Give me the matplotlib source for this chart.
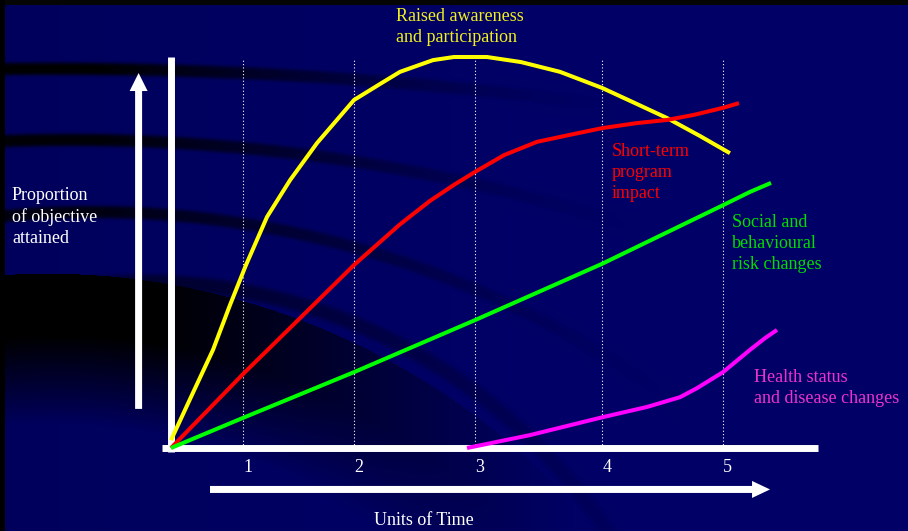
import numpy as np
import matplotlib.pyplot as plt
from matplotlib.patches import FancyArrow

# x: units of time (chart units), y: proportion of objective attained
tick_pos = [0.6, 1.525, 2.533, 3.592, 4.6]
tick_labels = ['1', '2', '3', '4', '5']

awareness_t = [0.0, 0.175, 0.35, 0.492, 0.625, 0.8, 0.992, 1.217, 1.525, 1.742, 1.908, 2.183,
               2.358, 2.633, 2.917, 3.242, 3.592, 3.867, 4.133, 4.408, 4.658]
awareness_p = [0.02, 0.136, 0.251, 0.366, 0.468, 0.591, 0.685, 0.780, 0.890, 0.931, 0.962, 0.992,
               1.0, 1.0, 0.987, 0.962, 0.921, 0.882, 0.844, 0.798, 0.754]

impact_t = [0.0, 0.6, 1.075, 1.525, 1.908, 2.158, 2.358, 2.533, 2.775, 3.05, 3.325, 3.592,
            3.883, 4.133, 4.358, 4.6, 4.733]
impact_p = [0.0, 0.189, 0.332, 0.468, 0.572, 0.632, 0.673, 0.706, 0.749, 0.783, 0.801, 0.818,
            0.831, 0.839, 0.852, 0.870, 0.882]

risk_t = [0.0, 0.6, 1.525, 2.533, 3.592, 4.6, 4.825, 5.0]
risk_p = [0.0, 0.077, 0.194, 0.327, 0.471, 0.621, 0.655, 0.678]

health_t = [2.467, 2.992, 3.6, 3.967, 4.242, 4.383, 4.6, 4.825, 4.95, 5.05]
health_p = [0.0, 0.033, 0.079, 0.105, 0.130, 0.153, 0.194, 0.251, 0.281, 0.302]

# pixel geometry of the slide
W, H = 908, 531
X0, XS = 171, 120.0   # origin px, px per time unit
Y0, YS = 448, 391.0   # origin px, px per unit proportion

# ---- background: navy slide with dark swooshes ----
yy, xx = np.mgrid[0:H, 0:W] + 0.5

def circle3(a, b, c):
    (x1, y1), (x2, y2), (x3, y3) = a, b, c
    A = 2 * np.array([[x2 - x1, y2 - y1], [x3 - x1, y3 - y1]], dtype=float)
    rhs = np.array([x2**2 - x1**2 + y2**2 - y1**2, x3**2 - x1**2 + y3**2 - y1**2], dtype=float)
    cx, cy = np.linalg.solve(A, rhs)
    return cx, cy, np.hypot(x1 - cx, y1 - cy)

dark = np.zeros((H, W))
bands = [
    (((5, 69), (300, 76), (600, 104)), 6.5, 0.9, 620),
    (((5, 141), (330, 158), (560, 205)), 6.5, 0.85, 640),
    (((5, 216), (330, 241), (560, 330)), 6.5, 0.75, 680),
]
for pts, w, s, xend in bands:
    cx, cy, r = circle3(*pts)
    d = np.hypot(xx - cx, yy - cy) - r
    fade = np.clip((xend - xx) / (xend - 100), 0, 1) ** 1.3
    dark = np.maximum(dark, s * np.exp(-(d / w) ** 4) * fade)

cx, cy, r = circle3((5, 275), (330, 332), (597, 531))
depth = r - np.hypot(xx - cx, yy - cy)
region = np.where(depth > 0, np.clip((150 - depth) / 90, 0, 1), 0)
region *= np.clip((580 - xx) / 420, 0, 1) ** 1.1
dark = np.maximum(dark, 0.92 * region)
# faint swoosh inside lower dark region
cx, cy, r = circle3((5, 300), (463, 383), (607, 531))
d = np.hypot(xx - cx, yy - cy) - r
dark = np.maximum(dark, 0.45 * np.exp(-(d / 8) ** 4) * np.clip((720 - xx) / 500, 0, 1))

blue = 0.40 * (1 - dark) - 0.04 * np.clip((500 - xx) / 500, 0, 1)
img = np.zeros((H, W, 3))
img[..., 2] = np.clip(blue, 0, 1)
img[:5, :, :] = 0.02
img[:, :5, :] = 0.0

fig = plt.figure(figsize=(9.08, 5.31), dpi=100)
bg = fig.add_axes([0, 0, 1, 1])
bg.imshow(img, extent=[0, W, H, 0], aspect='auto', interpolation='nearest')
bg.set_xlim(0, W)
bg.set_ylim(H, 0)
bg.axis('off')

ax = fig.add_axes([0, 0, 1, 1])
ax.patch.set_alpha(0)
ax.axis('off')
ax.set_xlim(-X0 / XS, (W - X0) / XS)
ax.set_ylim((Y0 - H) / YS, Y0 / YS)

font = 'Liberation Serif'
fs = 13
ls = 1.3

# dotted gridlines at each time unit
for x in tick_pos:
    ax.plot([x, x], [0, 0.997], color='white', lw=0.8, ls=(0, (1, 2)), zorder=1)

# axis bars
ax.plot([0, 0], [-0.01, 1.0], color='white', lw=5.0, solid_capstyle='butt', zorder=2)
ax.plot([-0.075, 5.39], [0, 0], color='white', lw=5.0, solid_capstyle='butt', zorder=2)

# curves
curve_kw = dict(lw=2.9, solid_capstyle='butt', solid_joinstyle='round', zorder=4)
ax.plot(awareness_t, awareness_p, color='#ffff00', **curve_kw)
ax.plot(impact_t, impact_p, color='#ff0000', **curve_kw)
ax.plot(risk_t, risk_p, color='#00ff00', **curve_kw)
ax.plot(health_t, health_p, color='#ff00ff', **curve_kw)

# arrows
ax.add_patch(FancyArrow(-0.27, 0.10, 0, 0.859, width=7 / XS, head_width=18 / XS,
                        head_length=18 / YS, length_includes_head=True,
                        color='white', lw=0, zorder=3))
ax.add_patch(FancyArrow(0.325, -0.106, 4.667, 0, width=7 / YS, head_width=17 / YS,
                        head_length=18 / XS, length_includes_head=True,
                        color='white', lw=0, zorder=3))

# tick labels
for x, lab in zip(tick_pos, tick_labels):
    ax.text(x + 0.04, -0.028, lab, color='white', fontsize=fs, family=font,
            ha='center', va='top')

ax.text(1.875, 1.125, 'Raised awareness\nand participation', color='#f0f020',
        fontsize=fs, family=font, ha='left', va='top', linespacing=ls)
ax.text(3.675, 0.780, 'Short-term\nprogram\nimpact', color='#ff0000',
        fontsize=fs, family=font, ha='left', va='top', linespacing=ls)
ax.text(4.675, 0.598, 'Social and\nbehavioural\nrisk changes', color='#00dd00',
        fontsize=fs, family=font, ha='left', va='top', linespacing=ls)
ax.text(4.858, 0.202, 'Health status\nand disease changes', color='#ee33cc',
        fontsize=fs, family=font, ha='left', va='top', linespacing=ls)
ax.text(-1.325, 0.668, 'Proportion\nof objective\nattained', color='white',
        fontsize=fs, family=font, ha='left', va='top', linespacing=ls)
ax.text(2.108, -0.164, 'Units of Time', color='white', fontsize=fs, family=font,
        ha='center', va='top')

fig.savefig('out.png', dpi=100)
